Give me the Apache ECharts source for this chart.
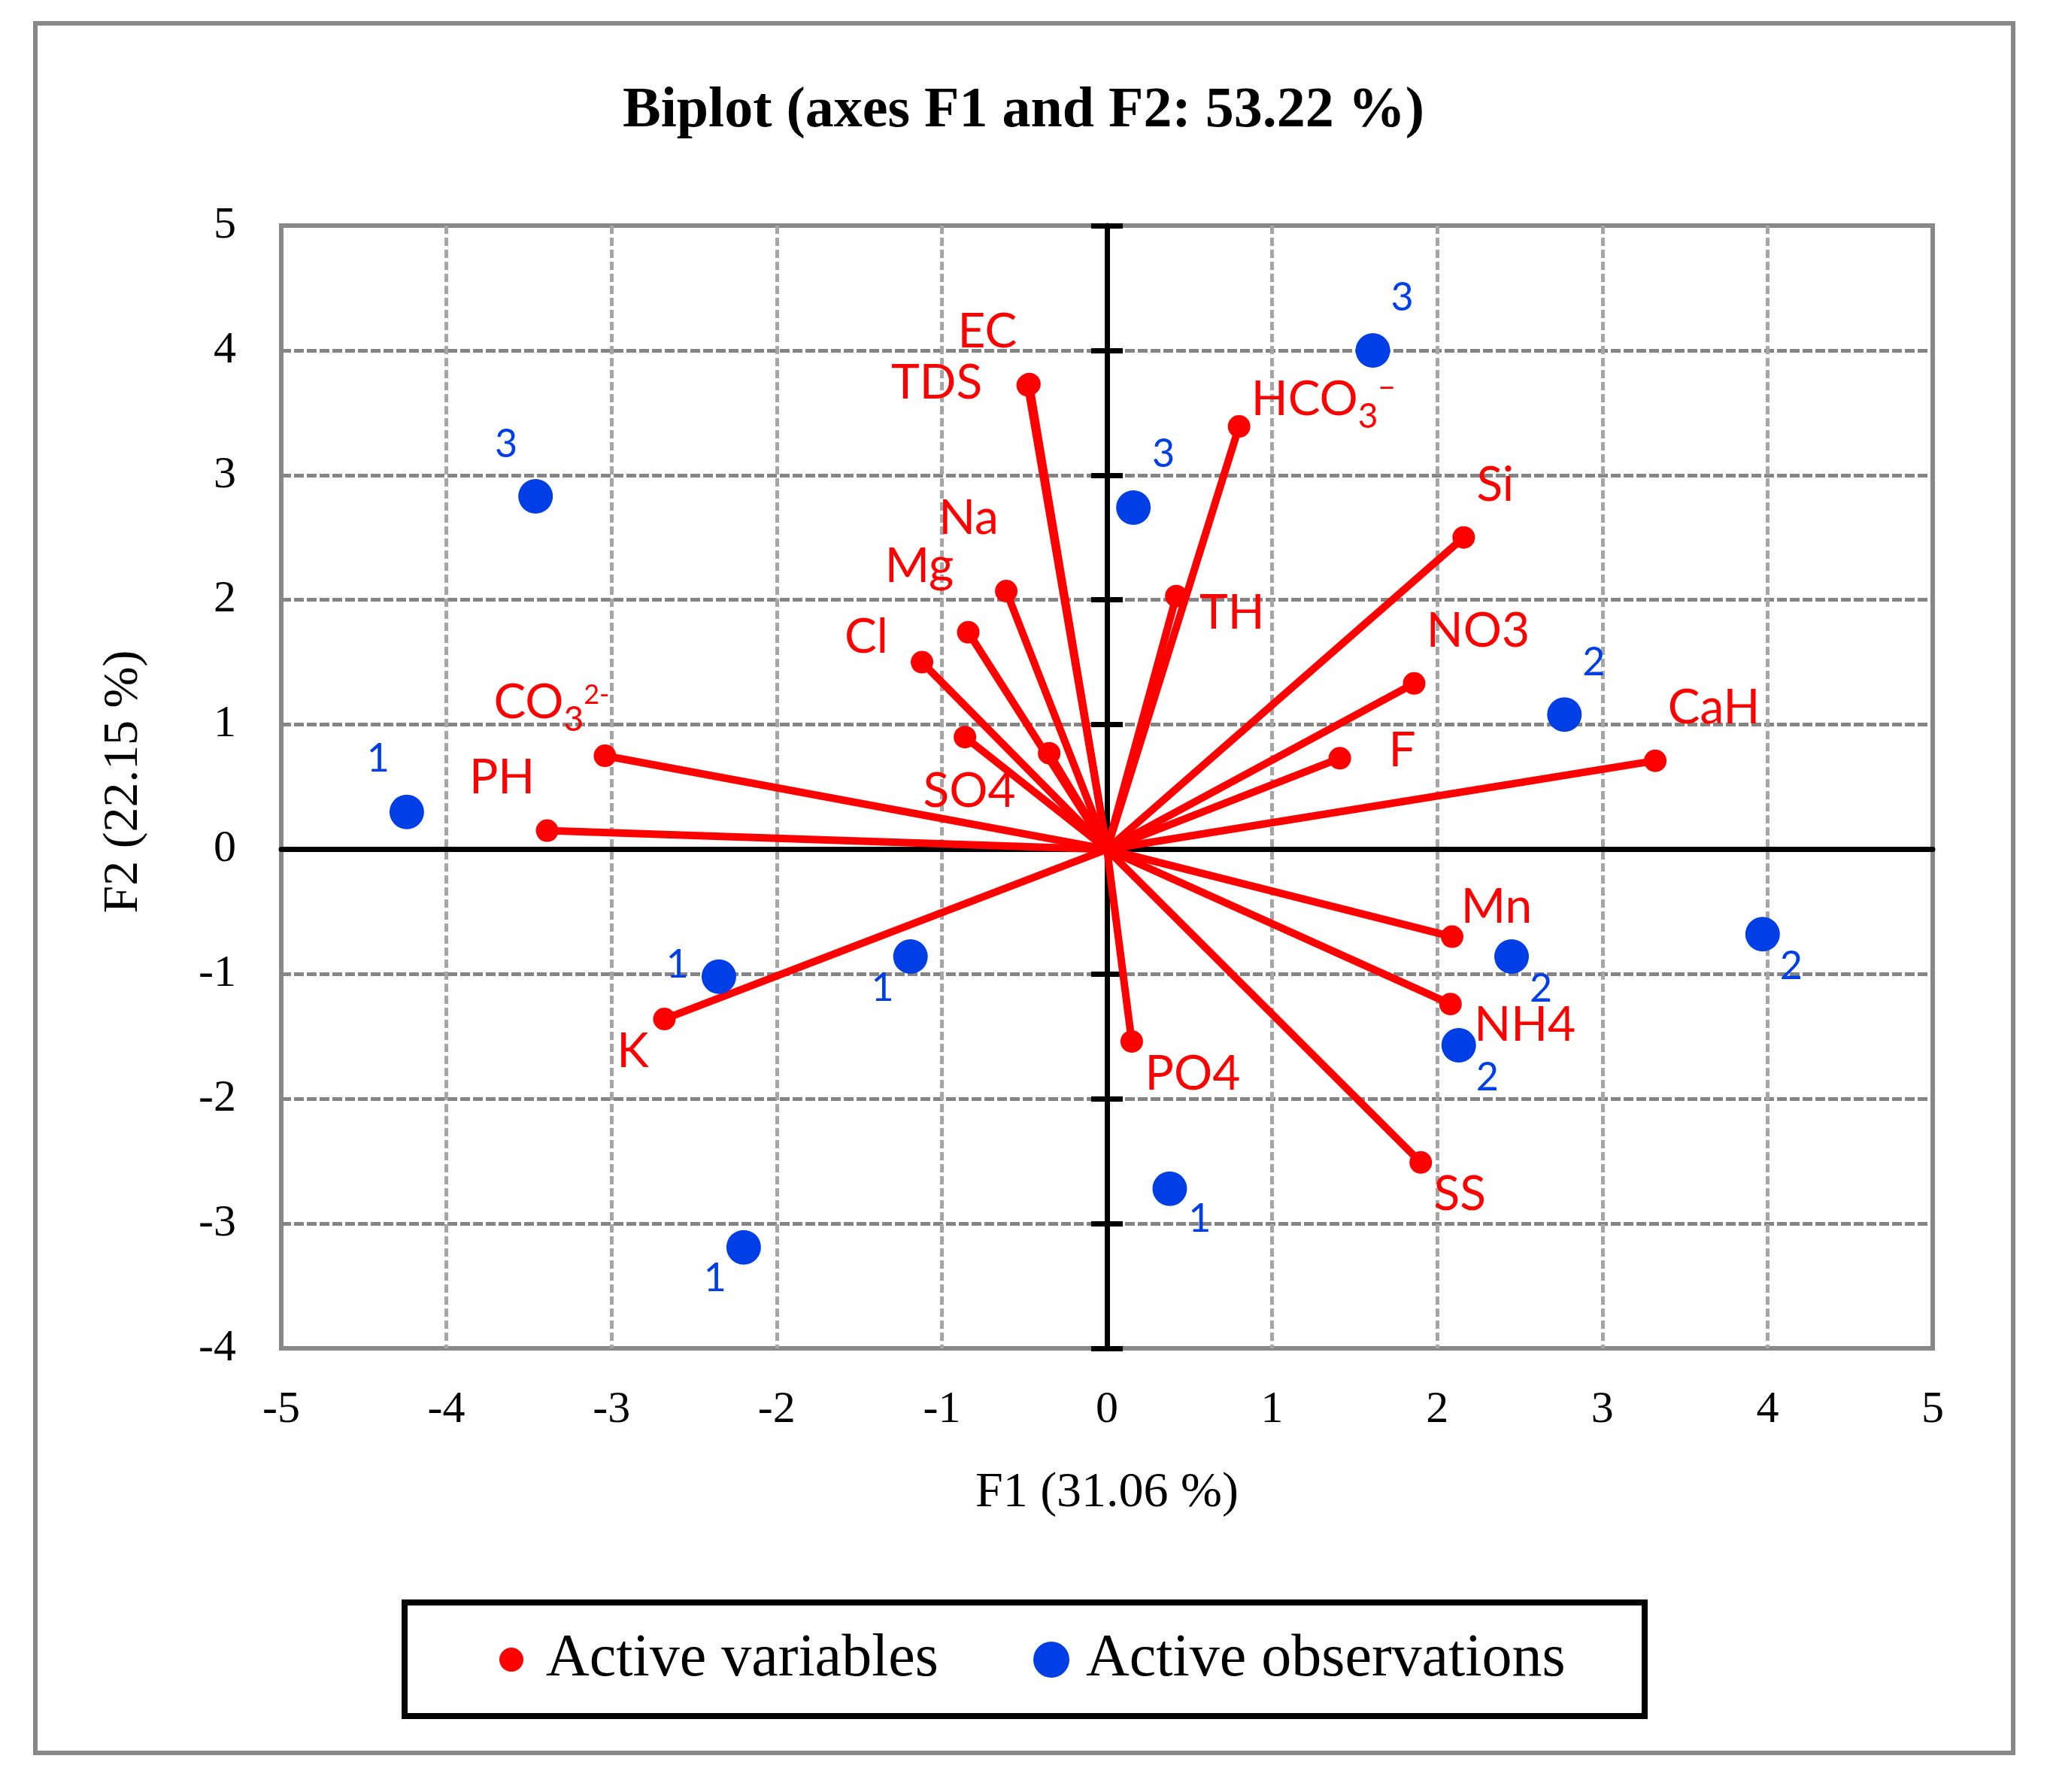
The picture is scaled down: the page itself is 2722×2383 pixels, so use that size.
<!DOCTYPE html>
<html>
<head>
<meta charset="utf-8">
<script src="https://cdn.jsdelivr.net/npm/echarts@6.0.0/dist/echarts.min.js"></script>
</head>
<body style="margin:0;background:#fff">
<div id="main" style="width:2722px;height:2383px"></div>
<script>
// axis bounds
var xMin = -5, xMax = 5;
var yMin = -4, yMax = 5;

// active variables (loadings), F1 / F2
var varNames = ['EC', 'TDS', 'HCO3-', 'Si', 'Na', 'Mg', 'Cl', '', 'SO4', 'TH', 'NO3', 'F', 'CaH', 'CO32-', 'PH', 'K', 'PO4', 'Mn', 'NH4', 'SS'];
var varF1 = [-0.47, -0.48, 0.80, 2.16, -0.61, -0.84, -1.12, -0.35, -0.86, 0.42, 1.86, 1.41, 3.32, -3.04, -3.39, -2.68, 0.15, 2.09, 2.08, 1.90];
var varF2 = [3.73, 3.72, 3.39, 2.50, 2.07, 1.74, 1.50, 0.77, 0.90, 2.03, 1.33, 0.73, 0.71, 0.75, 0.15, -1.36, -1.54, -0.70, -1.24, -2.51];

// active observations, group number shown next to each point
var obsNames = ['3', '3', '3', '1', '1', '1', '1', '1', '2', '2', '2', '2'];
var obsF1 = [1.61, 0.16, -3.46, -4.24, -2.35, -1.19, -2.20, 0.38, 2.77, 3.97, 2.45, 2.13];
var obsF2 = [4.00, 2.74, 2.83, 0.30, -1.02, -0.86, -3.19, -2.72, 1.08, -0.68, -0.86, -1.57];

// label placement (pixels from the point centre) - styling only
var varLabelShift = [[-56, -69], [-121, -3], [112, -36], [42, -69], [-50, -97], [-65, -87], [-74, -33], [0, 0],
    [6, 72], [74, 23], [85, -69], [83, -10], [78, -70], [-71, -71], [-60, -70], [-42, 43], [81, 43], [59, -39], [99, 28], [52, 43]];
var obsLabelShift = [[39, -70], [40, -71], [-39, -69], [-38, -70], [-55, -15], [-37, 42], [-38, 42], [40, 41],
    [39, -69], [38, 43], [39, 43], [38, 43]];

var RED = '#ff0000';
var BLUE = '#003ee6';
var SERIF = 'Liberation Serif';
var SANS = 'Lato';

// chemical formulas with sub/superscripts
var richNames = {
    'HCO3-': '{m|HCO}{sub|3}{supa|\u2212}',
    'CO32-': '{m|CO}{sub|3}{supb|2-}'
};

var varLines = [];
var varPoints = [];
for (var i = 0; i < varNames.length; i++) {
    varLines.push({coords: [[0, 0], [varF1[i], varF2[i]]]});
    varPoints.push({
        name: varNames[i],
        value: [varF1[i], varF2[i]],
        label: {offset: varLabelShift[i]}
    });
}
var obsPoints = [];
for (var j = 0; j < obsNames.length; j++) {
    obsPoints.push({
        name: obsNames[j],
        value: [obsF1[j], obsF2[j]],
        label: {offset: obsLabelShift[j]}
    });
}

var chart = echarts.init(document.getElementById('main'));
chart.setOption({
    animation: false,
    backgroundColor: '#fff',
    title: {
        text: 'Biplot (axes F1 and F2: 53.22 %)',
        left: 'center',
        top: 110,
        padding: 0,
        textStyle: {fontFamily: SERIF, fontWeight: 'bold', fontSize: 76, color: '#000'}
    },
    graphic: [
        {type: 'rect', shape: {x: 47, y: 31, width: 2630, height: 2300},
            style: {fill: 'none', stroke: '#888', lineWidth: 6}, silent: true},
        {type: 'rect', shape: {x: 538, y: 2131, width: 1649, height: 151},
            style: {fill: 'none', stroke: '#000', lineWidth: 8}, silent: true}
    ],
    legend: [
        {
            data: ['Active variables'],
            left: 664, top: 2167, padding: 0,
            icon: 'circle', itemWidth: 32, itemHeight: 32,
            selectedMode: false,
            textStyle: {fontFamily: SERIF, fontSize: 80, color: '#000', padding: [0, 0, 0, 25]}
        },
        {
            data: ['Active observations'],
            left: 1374, top: 2167, padding: 0,
            icon: 'circle', itemWidth: 48, itemHeight: 48,
            selectedMode: false,
            textStyle: {fontFamily: SERIF, fontSize: 80, color: '#000', padding: [0, 0, 0, 17]}
        }
    ],
    grid: {
        left: 374, top: 300, width: 2196, height: 1493,
        show: true, borderColor: '#888', borderWidth: 6,
        outerBoundsMode: 'none'
    },
    xAxis: [
        {
            type: 'value', min: xMin, max: xMax, interval: 1,
            name: 'F1 (31.06 %)', nameLocation: 'middle', nameGap: 160,
            nameTextStyle: {fontFamily: SERIF, fontSize: 66, color: '#000'},
            axisLine: {show: false, onZero: false},
            axisTick: {show: false},
            axisLabel: {fontFamily: SERIF, fontSize: 60, color: '#000', margin: 52},
            splitLine: {show: true, showMinLine: false, showMaxLine: false,
                lineStyle: {color: '#a6a6a6', width: 5, type: [11, 5]}}
        },
        {
            // horizontal zero axis
            type: 'value', min: xMin, max: xMax, interval: 1, z: 1,
            axisLine: {show: true, onZero: true, onZeroAxisIndex: 0, lineStyle: {color: '#000', width: 7}},
            axisTick: {show: false}, axisLabel: {show: false}, splitLine: {show: false}
        }
    ],
    yAxis: [
        {
            type: 'value', min: yMin, max: yMax, interval: 1,
            name: 'F2 (22.15 %)', nameLocation: 'middle', nameGap: 176,
            nameTextStyle: {fontFamily: SERIF, fontSize: 66, color: '#000', padding: [0, 0, 0, 14]},
            axisLine: {show: false, onZero: false},
            axisTick: {show: false},
            axisLabel: {fontFamily: SERIF, fontSize: 60, color: '#000', margin: 60},
            splitLine: {show: true, showMinLine: false, showMaxLine: false,
                lineStyle: {color: '#858585', width: 5, type: [13, 4]}}
        },
        {
            // vertical zero axis, ticks to the left
            type: 'value', min: yMin, max: yMax, interval: 1, z: 1,
            position: 'left', offset: -1098,
            axisLine: {show: true, onZero: false, lineStyle: {color: '#000', width: 7}},
            axisTick: {show: true, inside: false, length: 21, lineStyle: {color: '#000', width: 7}},
            axisLabel: {show: false}, splitLine: {show: false}
        },
        {
            // ticks to the right of the vertical zero axis
            type: 'value', min: yMin, max: yMax, interval: 1, z: 1,
            position: 'left', offset: -1098,
            axisLine: {show: false, onZero: false},
            axisTick: {show: true, inside: true, length: 21, lineStyle: {color: '#000', width: 7}},
            axisLabel: {show: false}, splitLine: {show: false}
        }
    ],
    series: [
        {
            name: 'vectors',
            type: 'lines',
            coordinateSystem: 'cartesian2d',
            silent: true,
            symbol: ['none', 'none'],
            lineStyle: {color: RED, width: 10, opacity: 1},
            data: varLines
        },
        {
            name: 'Active variables',
            type: 'scatter',
            silent: true,
            symbol: 'circle',
            symbolSize: 30,
            itemStyle: {color: RED, opacity: 1},
            label: {
                show: true,
                position: 'inside',
                align: 'center',
                verticalAlign: 'middle',
                fontFamily: SANS,
                fontSize: 64,
                color: RED,
                formatter: function (p) {
                    return richNames[p.name] || p.name;
                },
                rich: {
                    m: {fontFamily: SANS, fontSize: 64, color: RED},
                    sub: {fontFamily: SANS, fontSize: 46, color: RED, padding: [46, 0, 0, 0]},
                    supa: {fontFamily: SANS, fontSize: 40, color: RED, padding: [0, 0, 30, 0]},
                    supb: {fontFamily: SANS, fontSize: 36, color: RED, padding: [0, 0, 20, 0]}
                }
            },
            data: varPoints
        },
        {
            name: 'Active observations',
            type: 'scatter',
            silent: true,
            symbol: 'circle',
            symbolSize: 46,
            itemStyle: {color: BLUE, opacity: 1},
            label: {
                show: true,
                position: 'inside',
                align: 'center',
                verticalAlign: 'middle',
                fontFamily: SANS,
                fontSize: 52,
                color: BLUE,
                formatter: '{b}'
            },
            data: obsPoints
        }
    ]
});
</script>
</body>
</html>
